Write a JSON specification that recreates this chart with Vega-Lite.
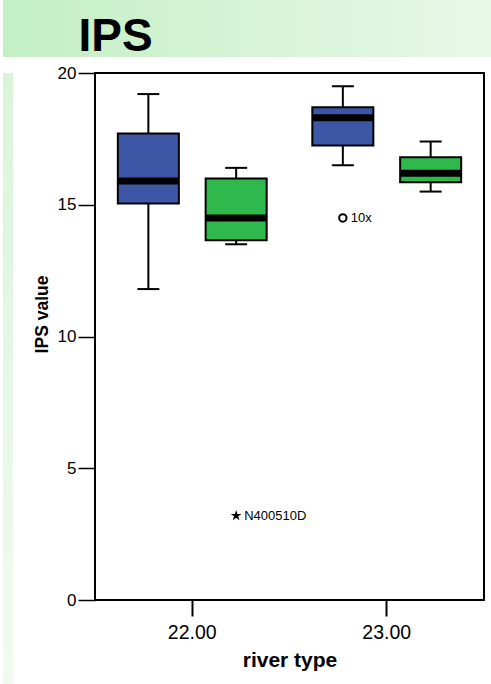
{
  "$schema": "https://vega.github.io/schema/vega-lite/v6.json",
  "background": "white",
  "padding": 0,
  "autosize": {"type": "pad"},
  "spacing": 4,
  "config": {
    "font": "Liberation Sans",
    "view": {"stroke": null},
    "axis": {
      "domain": false,
      "grid": false,
      "tickColor": "black",
      "labelColor": "black",
      "titleColor": "black",
      "labelFont": "Liberation Sans",
      "titleFont": "Liberation Sans",
      "titleFontWeight": "bold"
    },
    "axisY": {
      "tickSize": 17,
      "tickWidth": 1.5,
      "labelPadding": 2,
      "labelFontSize": 17,
      "titleFontSize": 17.5,
      "titlePadding": 6,
      "titleY": 241,
      "tickCount": 5
    },
    "axisX": {
      "tickSize": 16,
      "tickWidth": 2,
      "labelPadding": 7,
      "labelFontSize": 19.5,
      "titleFontSize": 21,
      "titlePadding": 8,
      "labelAngle": 0
    }
  },
  "datasets": {
    "boxes": [
      {"river_type": "22.00", "group": "1", "min": 11.8, "q1": 15.05, "median": 15.9, "q3": 17.7, "max": 19.2},
      {"river_type": "22.00", "group": "2", "min": 13.5, "q1": 13.65, "median": 14.5, "q3": 16.0, "max": 16.4},
      {"river_type": "23.00", "group": "1", "min": 16.5, "q1": 17.25, "median": 18.3, "q3": 18.7, "max": 19.5},
      {"river_type": "23.00", "group": "2", "min": 15.5, "q1": 15.85, "median": 16.2, "q3": 16.8, "max": 17.4}
    ],
    "outliers": [
      {"river_type": "23.00", "group": "1", "value": 14.5, "label": "10x", "kind": "outlier"},
      {"river_type": "22.00", "group": "2", "value": 3.2, "label": "N400510D", "kind": "extreme"}
    ]
  },
  "vconcat": [
    {
      "width": 491,
      "height": 57,
      "data": {"values": [{"v": 0}]},
      "mark": {"type": "point", "opacity": 0},
      "encoding": {
        "x": {
          "field": "v",
          "type": "quantitative",
          "scale": {"domain": [0, 1]},
          "axis": {
            "orient": "top",
            "domain": false,
            "ticks": false,
            "labels": false,
            "grid": false,
            "title": "IPS",
            "titleX": 75,
            "titleY": 50,
            "titleAlign": "left",
            "titleAnchor": "start",
            "titleAngle": 0,
            "titleBaseline": "alphabetic",
            "titleFontSize": 46,
            "titleFontWeight": "bold",
            "titleColor": "black"
          }
        }
      },
      "view": {
        "stroke": null,
        "fill": {
          "gradient": "linear",
          "x1": 0, "y1": 0, "x2": 1, "y2": 0,
          "stops": [
            {"offset": 0, "color": "#c4efc4"},
            {"offset": 1, "color": "#e8f8e8"}
          ]
        }
      }
    },
    {
      "spacing": 19,
      "hconcat": [
        {
          "width": 10,
          "height": 623,
          "data": {"values": []},
          "mark": "point",
          "view": {
            "stroke": null,
            "fill": {
              "gradient": "linear",
              "x1": 0, "y1": 0, "x2": 0, "y2": 1,
              "stops": [
                {"offset": 0, "color": "#daf4da"},
                {"offset": 1, "color": "#f1fbf1"}
              ]
            }
          }
        },
        {
          "width": 389,
          "height": 527,
          "view": {"stroke": "black", "strokeWidth": 2, "fill": "white"},
          "encoding": {
            "x": {
              "field": "river_type",
              "type": "nominal",
              "title": "river type",
              "scale": {"paddingInner": 0, "paddingOuter": 0}
            },
            "xOffset": {
              "field": "group",
              "type": "nominal",
              "scale": {"paddingInner": 0.305, "paddingOuter": 0.26}
            }
          },
          "layer": [
            {
              "data": {"name": "boxes"},
              "mark": {"type": "rule", "color": "black", "strokeWidth": 2},
              "encoding": {
                "y": {"field": "min", "type": "quantitative", "title": "IPS value", "scale": {"domain": [0, 20], "nice": false}},
                "y2": {"field": "max"}
              }
            },
            {
              "data": {"name": "boxes"},
              "mark": {"type": "tick", "color": "black", "thickness": 2, "size": 22, "opacity": 1},
              "encoding": {
                "y": {"field": "max", "type": "quantitative", "title": "IPS value"}
              }
            },
            {
              "data": {"name": "boxes"},
              "mark": {"type": "tick", "color": "black", "thickness": 2, "size": 22, "opacity": 1},
              "encoding": {
                "y": {"field": "min", "type": "quantitative", "title": "IPS value"}
              }
            },
            {
              "data": {"name": "boxes"},
              "mark": {"type": "bar", "stroke": "black", "strokeWidth": 2, "opacity": 1},
              "encoding": {
                "y": {"field": "q1", "type": "quantitative", "title": "IPS value"},
                "y2": {"field": "q3"},
                "color": {
                  "field": "group",
                  "type": "nominal",
                  "scale": {"domain": ["1", "2"], "range": ["#3d56a6", "#2fb84b"]},
                  "legend": null
                }
              }
            },
            {
              "data": {"name": "boxes"},
              "mark": {"type": "tick", "color": "black", "thickness": 7, "size": 61, "opacity": 1},
              "encoding": {
                "y": {"field": "median", "type": "quantitative", "title": "IPS value"}
              }
            },
            {
              "data": {"name": "outliers"},
              "transform": [{"filter": "datum.kind === 'outlier'"}],
              "mark": {"type": "point", "shape": "circle", "filled": false, "stroke": "black", "strokeWidth": 2, "size": 55, "opacity": 1},
              "encoding": {
                "y": {"field": "value", "type": "quantitative", "title": "IPS value"}
              }
            },
            {
              "data": {"name": "outliers"},
              "transform": [{"filter": "datum.kind === 'extreme'"}],
              "mark": {
                "type": "point",
                "shape": "M0,-1L0.225,-0.309L0.951,-0.309L0.363,0.118L0.588,0.809L0,0.382L-0.588,0.809L-0.363,0.118L-0.951,-0.309L-0.225,-0.309Z",
                "filled": true,
                "fill": "black",
                "size": 130,
                "opacity": 1
              },
              "encoding": {
                "y": {"field": "value", "type": "quantitative", "title": "IPS value"}
              }
            },
            {
              "data": {"name": "outliers"},
              "mark": {"type": "text", "align": "left", "baseline": "middle", "dx": 8, "fontSize": 13, "font": "Liberation Sans", "color": "black"},
              "encoding": {
                "y": {"field": "value", "type": "quantitative", "title": "IPS value"},
                "text": {"field": "label"}
              }
            }
          ]
        }
      ]
    }
  ]
}
